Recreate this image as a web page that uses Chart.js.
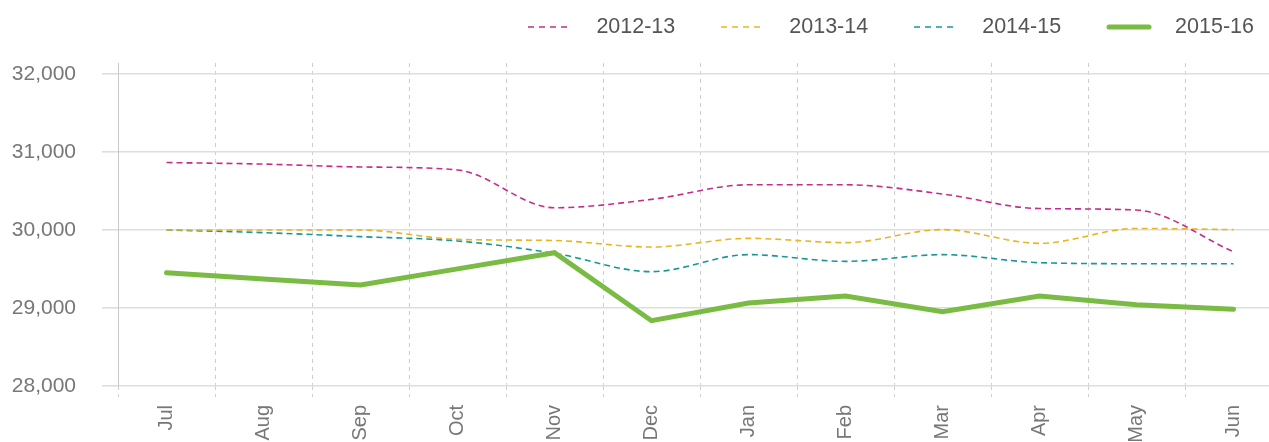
<!DOCTYPE html>
<html>
<head>
<meta charset="utf-8">
<script src="https://cdn.jsdelivr.net/npm/chart.js@4.4.0/dist/chart.umd.min.js"></script>
<style>
  html, body { margin: 0; padding: 0; background: #fff; overflow: hidden; width: 1269px; height: 442px; }
  #wrap { position: absolute; left: 0; top: 0; width: 1282px; height: 442px; }
  #legend { position: absolute; right: 15px; top: 14px; display: flex; font-family: "Liberation Sans", Arial, sans-serif; font-size: 21.5px; color: #555; }
  .item { display: flex; align-items: center; margin-left: 45px; }
  .item svg { margin-right: 23px; }
</style>
</head>
<body>
<div id="wrap"><canvas id="chart"></canvas></div>
<div id="legend"></div>
<script>
const months = ["Jul", "Aug", "Sep", "Oct", "Nov", "Dec", "Jan", "Feb", "Mar", "Apr", "May", "Jun"];

const fy1213 = [30865, 30845, 30808, 30770, 30285, 30393, 30580, 30580, 30462, 30275, 30256, 29722];
const fy1314 = [30000, 30000, 30000, 29880, 29865, 29782, 29893, 29838, 30005, 29829, 30020, 30005];
const fy1415 = [30000, 29966, 29915, 29859, 29701, 29466, 29684, 29598, 29684, 29581, 29568, 29568];
const fy1516 = [29453, 29372, 29295, 29502, 29709, 28837, 29064, 29154, 28953, 29154, 29042, 28983];

const seriesLabels = ["2012-13", "2013-14", "2014-15", "2015-16"];
const seriesData = [fy1213, fy1314, fy1415, fy1516];
const seriesColors = ["#c42d8c", "#e9b522", "#17979c", "#79bb43"];

const yTicks = [28000, 29000, 30000, 31000, 32000];

const datasets = seriesData.map(function (values, i) {
  var last = i === seriesData.length - 1;
  return {
    label: seriesLabels[i],
    data: values,
    borderColor: seriesColors[i],
    backgroundColor: seriesColors[i],
    borderWidth: last ? 5 : 1.6,
    borderDash: last ? [] : [6, 4],
    borderCapStyle: last ? "round" : "butt",
    cubicInterpolationMode: last ? "default" : "monotone",
    tension: 0,
    pointRadius: 0,
    fill: false,
    order: last ? 0 : 1
  };
});

// legend as html, built from the same series
var legend = document.getElementById("legend");
seriesLabels.forEach(function (label, i) {
  var last = i === seriesLabels.length - 1;
  var item = document.createElement("div");
  item.className = "item";
  var dash = last ? "" : ' stroke-dasharray="6 5"';
  item.innerHTML = '<svg width="46" height="10"><line x1="' + (last ? 3 : 1) + '" y1="5" x2="' + (last ? 43 : 45) +
    '" y2="5" stroke="' + seriesColors[i] + '" stroke-width="' + (last ? 5 : 1.6) + '" stroke-linecap="' +
    (last ? "round" : "butt") + '"' + dash + '/></svg><span>' + label + '</span>';
  legend.appendChild(item);
});

const fontFamily = "'Liberation Sans', Arial, sans-serif";

new Chart(document.getElementById("chart"), {
  type: "line",
  data: { labels: months, datasets: datasets },
  options: {
    responsive: true,
    maintainAspectRatio: false,
    animation: false,
    locale: "en-US",
    layout: { padding: { top: 63, left: 0, right: 0, bottom: 0 } },
    plugins: { legend: { display: false }, tooltip: { enabled: false } },
    scales: {
      x: {
        offset: true,
        afterFit: function (scale) { scale.height = 56; },
        grid: { offset: true, color: "#cfcfcf", lineWidth: 1, tickLength: 11, tickColor: "#cfcfcf", tickBorderDash: [4, 4] },
        border: { display: false, dash: [4, 4] },
        ticks: { minRotation: 90, maxRotation: 90, autoSkip: false, padding: 8, color: "#777", font: { family: fontFamily, size: 20 } }
      },
      y: {
        min: 28000,
        max: 32141,
        afterBuildTicks: function (scale) {
          scale.ticks = yTicks.map(function (v) { return { value: v }; });
        },
        afterFit: function (scale) { scale.width = 118; },
        grid: { color: "#dedede", lineWidth: 1.6, tickLength: 16, tickColor: "#dedede" },
        border: { display: true, color: "#c8c8c8", width: 1 },
        ticks: { padding: 26, color: "#777", font: { family: fontFamily, size: 21 } }
      }
    }
  }
});
</script>
</body>
</html>
